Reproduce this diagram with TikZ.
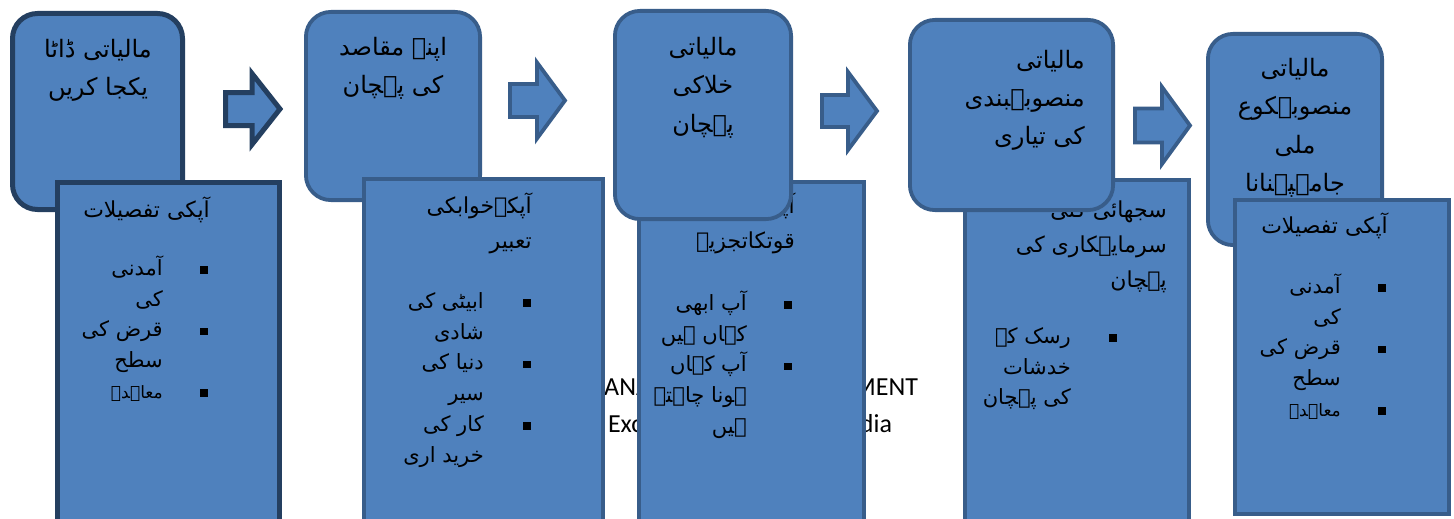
\documentclass[tikz,border=0pt]{standalone}
\usepackage{fontspec}
\TeXXeTstate=1
\newfontfamily\urfont[Script=Arabic]{DejaVu Sans}
\newfontfamily\engfont{Carlito}
\newcommand{\urd}[1]{\beginR#1\endR}
\newcommand{\ftop}{\rule{0pt}{1.1em}}
\definecolor{boxfill}{HTML}{4F81BD}
\definecolor{edgeA}{HTML}{243F60}
\definecolor{edgeB}{HTML}{385D8A}
\tikzset{
 shapeA/.style={draw=edgeA, line width=5pt, fill=boxfill},
 shapeB/.style={draw=edgeB, line width=3.8pt, fill=boxfill},
 topbox/.style={rectangle, rounded corners=25pt, inner sep=0pt},
 lowbox/.style={rectangle, inner sep=0pt},
 toptext/.style={inner sep=0pt, align=center, font=\fontsize{24}{38.5}\selectfont\urfont},
 toptextr/.style={inner sep=0pt, align=right, font=\fontsize{24}{38}\selectfont\urfont},
 headtext/.style={inner sep=0pt, align=right, font=\fontsize{22}{35}\selectfont\urfont},
 listtext/.style={inner sep=0pt, align=right, font=\fontsize{21}{30.8}\selectfont\urfont},
 bulletsq/.style={fill=black, inner sep=0pt, minimum size=7.5pt, rectangle},
 bgtext/.style={inner sep=0pt, align=center, font=\fontsize{26}{37}\selectfont\engfont},
}
\begin{document}
\begin{tikzpicture}[x=1pt,y=-1pt]
\useasboundingbox (0,0) rectangle (1454,519);
\fill[white] (0,0) rectangle (1454,519);
\clip (0,0) rectangle (1454,519);
% background text
\node[bgtext, anchor=north] (bg) at (750,366.4) {\makebox[336pt][s]{\ftop MANAGE YOUR INVESTMENT}\\\makebox[284pt][s]{Excellence Across India}};
% ---------- column 1
\node[shapeA, topbox, minimum width=170pt, minimum height=196pt] (t1) at (97.5,111.5) {};
\node[toptext, anchor=north] (t1txt) at (98,30.6) {\urd{\ftop مالیاتی ڈاٹا}\\\urd{یکجا کریں}};
\node[shapeA, lowbox, minimum width=222pt, minimum height=375pt] (b1) at (168.5,370) {};
\node[headtext, anchor=north east] (h1) at (210,192.8) {\urd{\ftop آپکی تفصیلات}};
\node[listtext, anchor=north east] (l1) at (163,251.9) {\urd{\ftop آمدنی}\\\urd{کی}\\\urd{قرض کی}\\\urd{سطح}\\{\fontsize{17}{30.8}\selectfont\urd{معاہدہ}}};
\node[bulletsq] (d11) at (204,270) {};
\node[bulletsq] (d12) at (204,331.6) {};
\node[bulletsq] (d13) at (204,393.2) {};
\draw[shapeA] (225.5,92.5) -- (252,92.5) -- (252,73.5) -- (280,109) -- (252,144.5) -- (252,125.5) -- (225.5,125.5) -- cycle;
% ---------- column 2
\node[shapeB, topbox, minimum width=174.2pt, minimum height=188.2pt] (t2) at (393,106) {};
\node[toptext, anchor=north] (t2txt) at (393,28.6) {\urd{\ftop اپنے مقاصد}\\\urd{کی پہچان}};
\node[shapeB, lowbox, minimum width=239.2pt, minimum height=379.2pt] (b2) at (483.5,368.5) {};
\node[headtext, anchor=north east] (h2) at (532,188.8) {\urd{\ftop آپکےخوابکی}\\\urd{تعبیر}};
\node[listtext, anchor=north east] (l2) at (484,284.9) {\urd{\ftop ابیٹی کی}\\\urd{شادی}\\\urd{دنیا کی}\\\urd{سیر}\\\urd{کار کی}\\\urd{خرید اری}};
\node[bulletsq] (d21) at (527,303) {};
\node[bulletsq] (d22) at (527,364.6) {};
\node[bulletsq] (d23) at (527,426.2) {};
\draw[shapeB] (510,84) -- (537,84) -- (537,62.5) -- (565,100.5) -- (537,138.5) -- (537,117) -- (510,117) -- cycle;
% ---------- column 3
\node[shapeB, lowbox, minimum width=225.2pt, minimum height=376.2pt] (b3) at (751.5,370) {};
\node[headtext, anchor=north east] (h3) at (795,188.8) {\urd{\ftop آپکی مالی}\\\urd{قوتکاتجزیہ}};
\node[listtext, anchor=north east] (l3) at (747,286.9) {\urd{\ftop آپ ابھی}\\\urd{کہاں ہیں}\\\urd{آپ کہاں}\\\urd{ہونا چاہتے}\\\urd{ہیں}};
\node[bulletsq] (d31) at (788,305) {};
\node[bulletsq] (d32) at (788,366.6) {};
\node[shapeB, topbox, minimum width=176.2pt, minimum height=208.2pt] (t3) at (703,115) {};
\node[toptext, anchor=north] (t3txt) at (703,28.6) {\urd{\ftop مالیاتی}\\\urd{خلاکی}\\\urd{پہچان}};
\draw[shapeB] (822,95) -- (848,95) -- (848,72) -- (877,111) -- (848,150) -- (848,127) -- (822,127) -- cycle;
% ---------- column 4
\node[shapeB, lowbox, minimum width=224.2pt, minimum height=378.2pt] (b4) at (1077,369) {};
\node[headtext, anchor=north east] (h4) at (1167,192.8) {\urd{\ftop سجھائی گئی}\\\urd{سرمایہکاری کی}\\\urd{پہچان}};
\node[listtext, anchor=north east] (l4) at (1071,319.9) {\urd{\ftop رسک کے}\\\urd{خدشات}\\\urd{کی پہچان}};
\node[bulletsq] (d41) at (1113,338) {};
\node[shapeB, topbox, minimum width=203.2pt, minimum height=190.2pt] (t4) at (1011.5,115) {};
\node[toptextr, anchor=north east] (t4txt) at (1085,41.6) {\urd{\ftop مالیاتی}\\\urd{منصوبہبندی}\\\urd{کی تیاری}};
\draw[shapeB] (1135,108.5) -- (1162,108.5) -- (1162,87) -- (1190,125.5) -- (1162,164) -- (1162,142.5) -- (1135,142.5) -- cycle;
% ---------- column 5
\node[shapeB, topbox, minimum width=174.2pt, minimum height=211.2pt] (t5) at (1295,139.5) {};
\node[toptext, anchor=north] (t5txt) at (1295,49.6) {\urd{\ftop مالیاتی}\\\urd{منصوبہکوع}\\\urd{ملی}\\\urd{جامہپہنانا}};
\node[shapeB, lowbox, minimum width=214.2pt, minimum height=314.2pt] (b5) at (1342,357) {};
\node[headtext, anchor=north east] (h5) at (1388,208.8) {\urd{\ftop آپکی تفصیلات}};
\node[listtext, anchor=north east] (l5) at (1341,269.9) {\urd{\ftop آمدنی}\\\urd{کی}\\\urd{قرض کی}\\\urd{سطح}\\{\fontsize{17}{30.8}\selectfont\urd{معاہدہ}}};
\node[bulletsq] (d51) at (1382,288) {};
\node[bulletsq] (d52) at (1382,349.6) {};
\node[bulletsq] (d53) at (1382,411.2) {};
\end{tikzpicture}
\end{document}
